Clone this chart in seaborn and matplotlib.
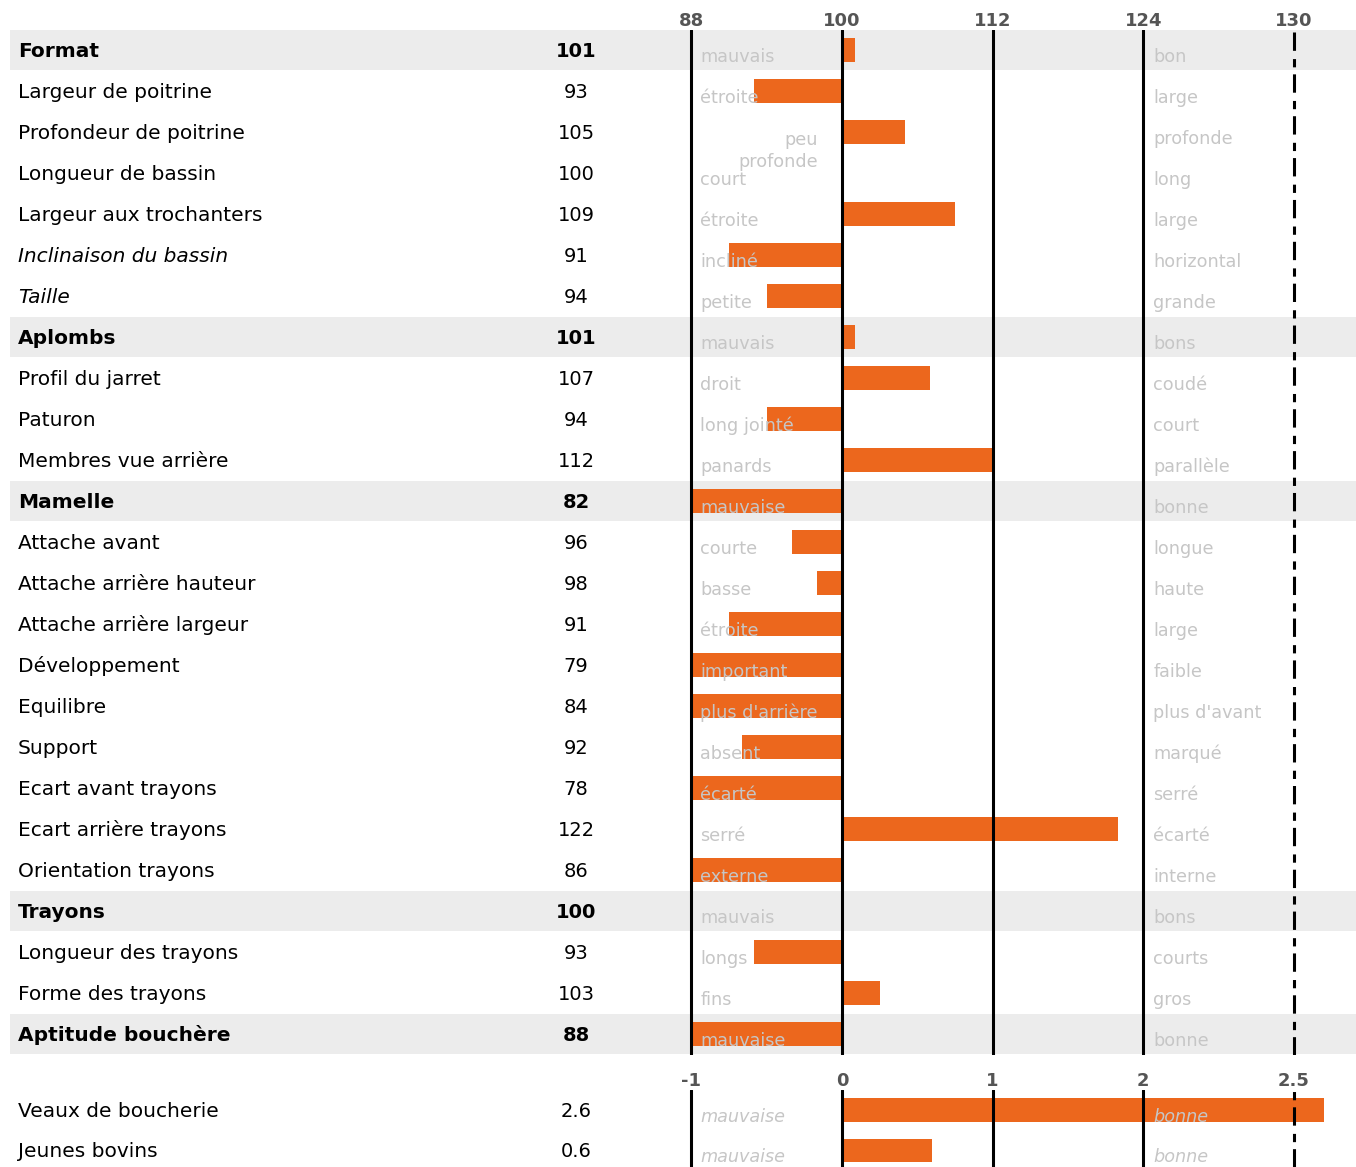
import numpy as np
import seaborn as sns
import matplotlib.pyplot as plt
from matplotlib.transforms import blended_transform_factory
from matplotlib.patches import Rectangle

# Données : index morphologiques
names = ['Format', 'Largeur de poitrine', 'Profondeur de poitrine', 'Longueur de bassin',
         'Largeur aux trochanters', 'Inclinaison du bassin', 'Taille', 'Aplombs',
         'Profil du jarret', 'Paturon', 'Membres vue arrière', 'Mamelle', 'Attache avant',
         'Attache arrière hauteur', 'Attache arrière largeur', 'Développement', 'Equilibre',
         'Support', 'Ecart avant trayons', 'Ecart arrière trayons', 'Orientation trayons',
         'Trayons', 'Longueur des trayons', 'Forme des trayons', 'Aptitude bouchère']
values = [101, 93, 105, 100, 109, 91, 94, 101, 107, 94, 112, 82, 96, 98, 91, 79, 84, 92,
          78, 122, 86, 100, 93, 103, 88]
low_labels = ['mauvais', 'étroite', 'peu\nprofonde', 'court', 'étroite', 'incliné', 'petite',
              'mauvais', 'droit', 'long jointé', 'panards', 'mauvaise', 'courte', 'basse',
              'étroite', 'important', "plus d'arrière", 'absent', 'écarté', 'serré', 'externe',
              'mauvais', 'longs', 'fins', 'mauvaise']
high_labels = ['bon', 'large', 'profonde', 'long', 'large', 'horizontal', 'grande', 'bons',
               'coudé', 'court', 'parallèle', 'bonne', 'longue', 'haute', 'large', 'faible',
               "plus d'avant", 'marqué', 'serré', 'écarté', 'interne', 'bons', 'courts',
               'gros', 'bonne']
group_rows = ['Format', 'Aplombs', 'Mamelle', 'Trayons', 'Aptitude bouchère']
italic_rows = ['Inclinaison du bassin', 'Taille']
tick_values = [88, 100, 112, 124, 130]

# Données : aptitude bouchère
beef_names = ['Veaux de boucherie', 'Jeunes bovins']
beef_values = [2.6, 0.6]
beef_low = ['mauvaise', 'mauvaise']
beef_high = ['bonne', 'bonne']
beef_ticks = [-1, 0, 1, 2, 2.5]

grid = [-1, 0, 1, 2, 3]
orange = '#ec671d'
light = '#c6c6c6'
band = '#ececec'


def to_grid(v, ticks):
    # échelle par morceaux : chaque graduation est à égale distance
    v = np.asarray(v, dtype=float)
    u = np.interp(v, ticks, grid)
    hi = v > ticks[-1]
    u[hi] = grid[-1] + (v[hi] - ticks[-1]) / (ticks[-1] - ticks[-2])
    return u


sns.set_theme(style='white')
plt.rcParams['font.family'] = ['DejaVu Sans']

W, H = 1356, 1167
fig = plt.figure(figsize=(W / 100, H / 100), dpi=100)
px_per_unit = 150.6
x0 = 842
xlim = ((680 - x0) / px_per_unit, (W - x0) / px_per_unit)

ax = fig.add_axes([680 / W, 1 - 1054.5 / H, 676 / W, 1025 / H])
ax2 = fig.add_axes([680 / W, 0, 676 / W, 77.5 / H])

name_fs = 14.5
value_fs = 14
cat_fs = 12.7


def draw_panel(ax, labels, vals, ticks, tick_labels, lows, highs, italic_cats, nrows_visible):
    u = to_grid(vals, ticks)
    sns.barplot(x=u, y=labels, orient='h', color=orange, saturation=1, width=0.58,
                linewidth=0, ax=ax, zorder=2)
    ax.set_xlim(*xlim)
    ax.set_ylim(nrows_visible, -0.5)
    ax.set_facecolor('none')
    for s in ax.spines.values():
        s.set_visible(False)
    ax.set_yticks([])
    ax.set_ylabel('')
    ax.xaxis.tick_top()
    ax.set_xticks(grid)
    ax.set_xticklabels(tick_labels, fontweight='bold', color='#555555', fontsize=13)
    ax.tick_params(axis='x', length=0, pad=-0.5)
    for g in grid[:-1]:
        ax.axvline(g, color='black', lw=2.2, zorder=3)
    ax.axvline(grid[-1], color='black', lw=2.2, ls=(0, (6, 2.3, 2.7, 2.7)), zorder=3)

    trans = blended_transform_factory(fig.transFigure, ax.transData)
    for i, name in enumerate(labels):
        bold = name in group_rows
        ital = 'italic' if name in italic_rows else 'normal'
        if bold:
            ax.add_patch(Rectangle((10 / W, i - 0.5), 1 - 10 / W, 0.98, transform=trans,
                                   facecolor=band, edgecolor='none', zorder=0, clip_on=False))
        ax.text(18 / W, i + 0.03, name, transform=trans, va='center', ha='left', fontsize=name_fs,
                fontweight='bold' if bold else 'normal', style=ital, color='#000000',
                clip_on=False)
        val = vals[i]
        ax.text(576 / W, i + 0.03, f'{val:g}', transform=trans, va='center', ha='center',
                fontsize=value_fs, fontweight='bold' if bold else 'normal', color='#000000',
                clip_on=False)
        lo = lows[i]
        if '\n' in lo:
            ax.text(-0.16, i + 0.46, lo, va='center', ha='right', multialignment='right',
                    fontsize=cat_fs, color=light, style=italic_cats, zorder=4,
                    linespacing=1.3)
        else:
            ax.text(-1 + 9 / px_per_unit, i + 0.17, lo, va='center', ha='left',
                    fontsize=cat_fs, color=light, style=italic_cats, zorder=4)
        ax.text(2 + 10 / px_per_unit, i + 0.17, highs[i], va='center', ha='left',
                fontsize=cat_fs, color=light, style=italic_cats, zorder=4)


draw_panel(ax, names, values, tick_values, [str(t) for t in tick_values],
           low_labels, high_labels, 'normal', len(names) - 0.5)
draw_panel(ax2, beef_names, beef_values, beef_ticks, [f'{t:g}' for t in beef_ticks],
           beef_low, beef_high, 'italic', (H - 1089.5) / 41 - 0.5 + 0.02)

plt.savefig('out.png', dpi=100)
